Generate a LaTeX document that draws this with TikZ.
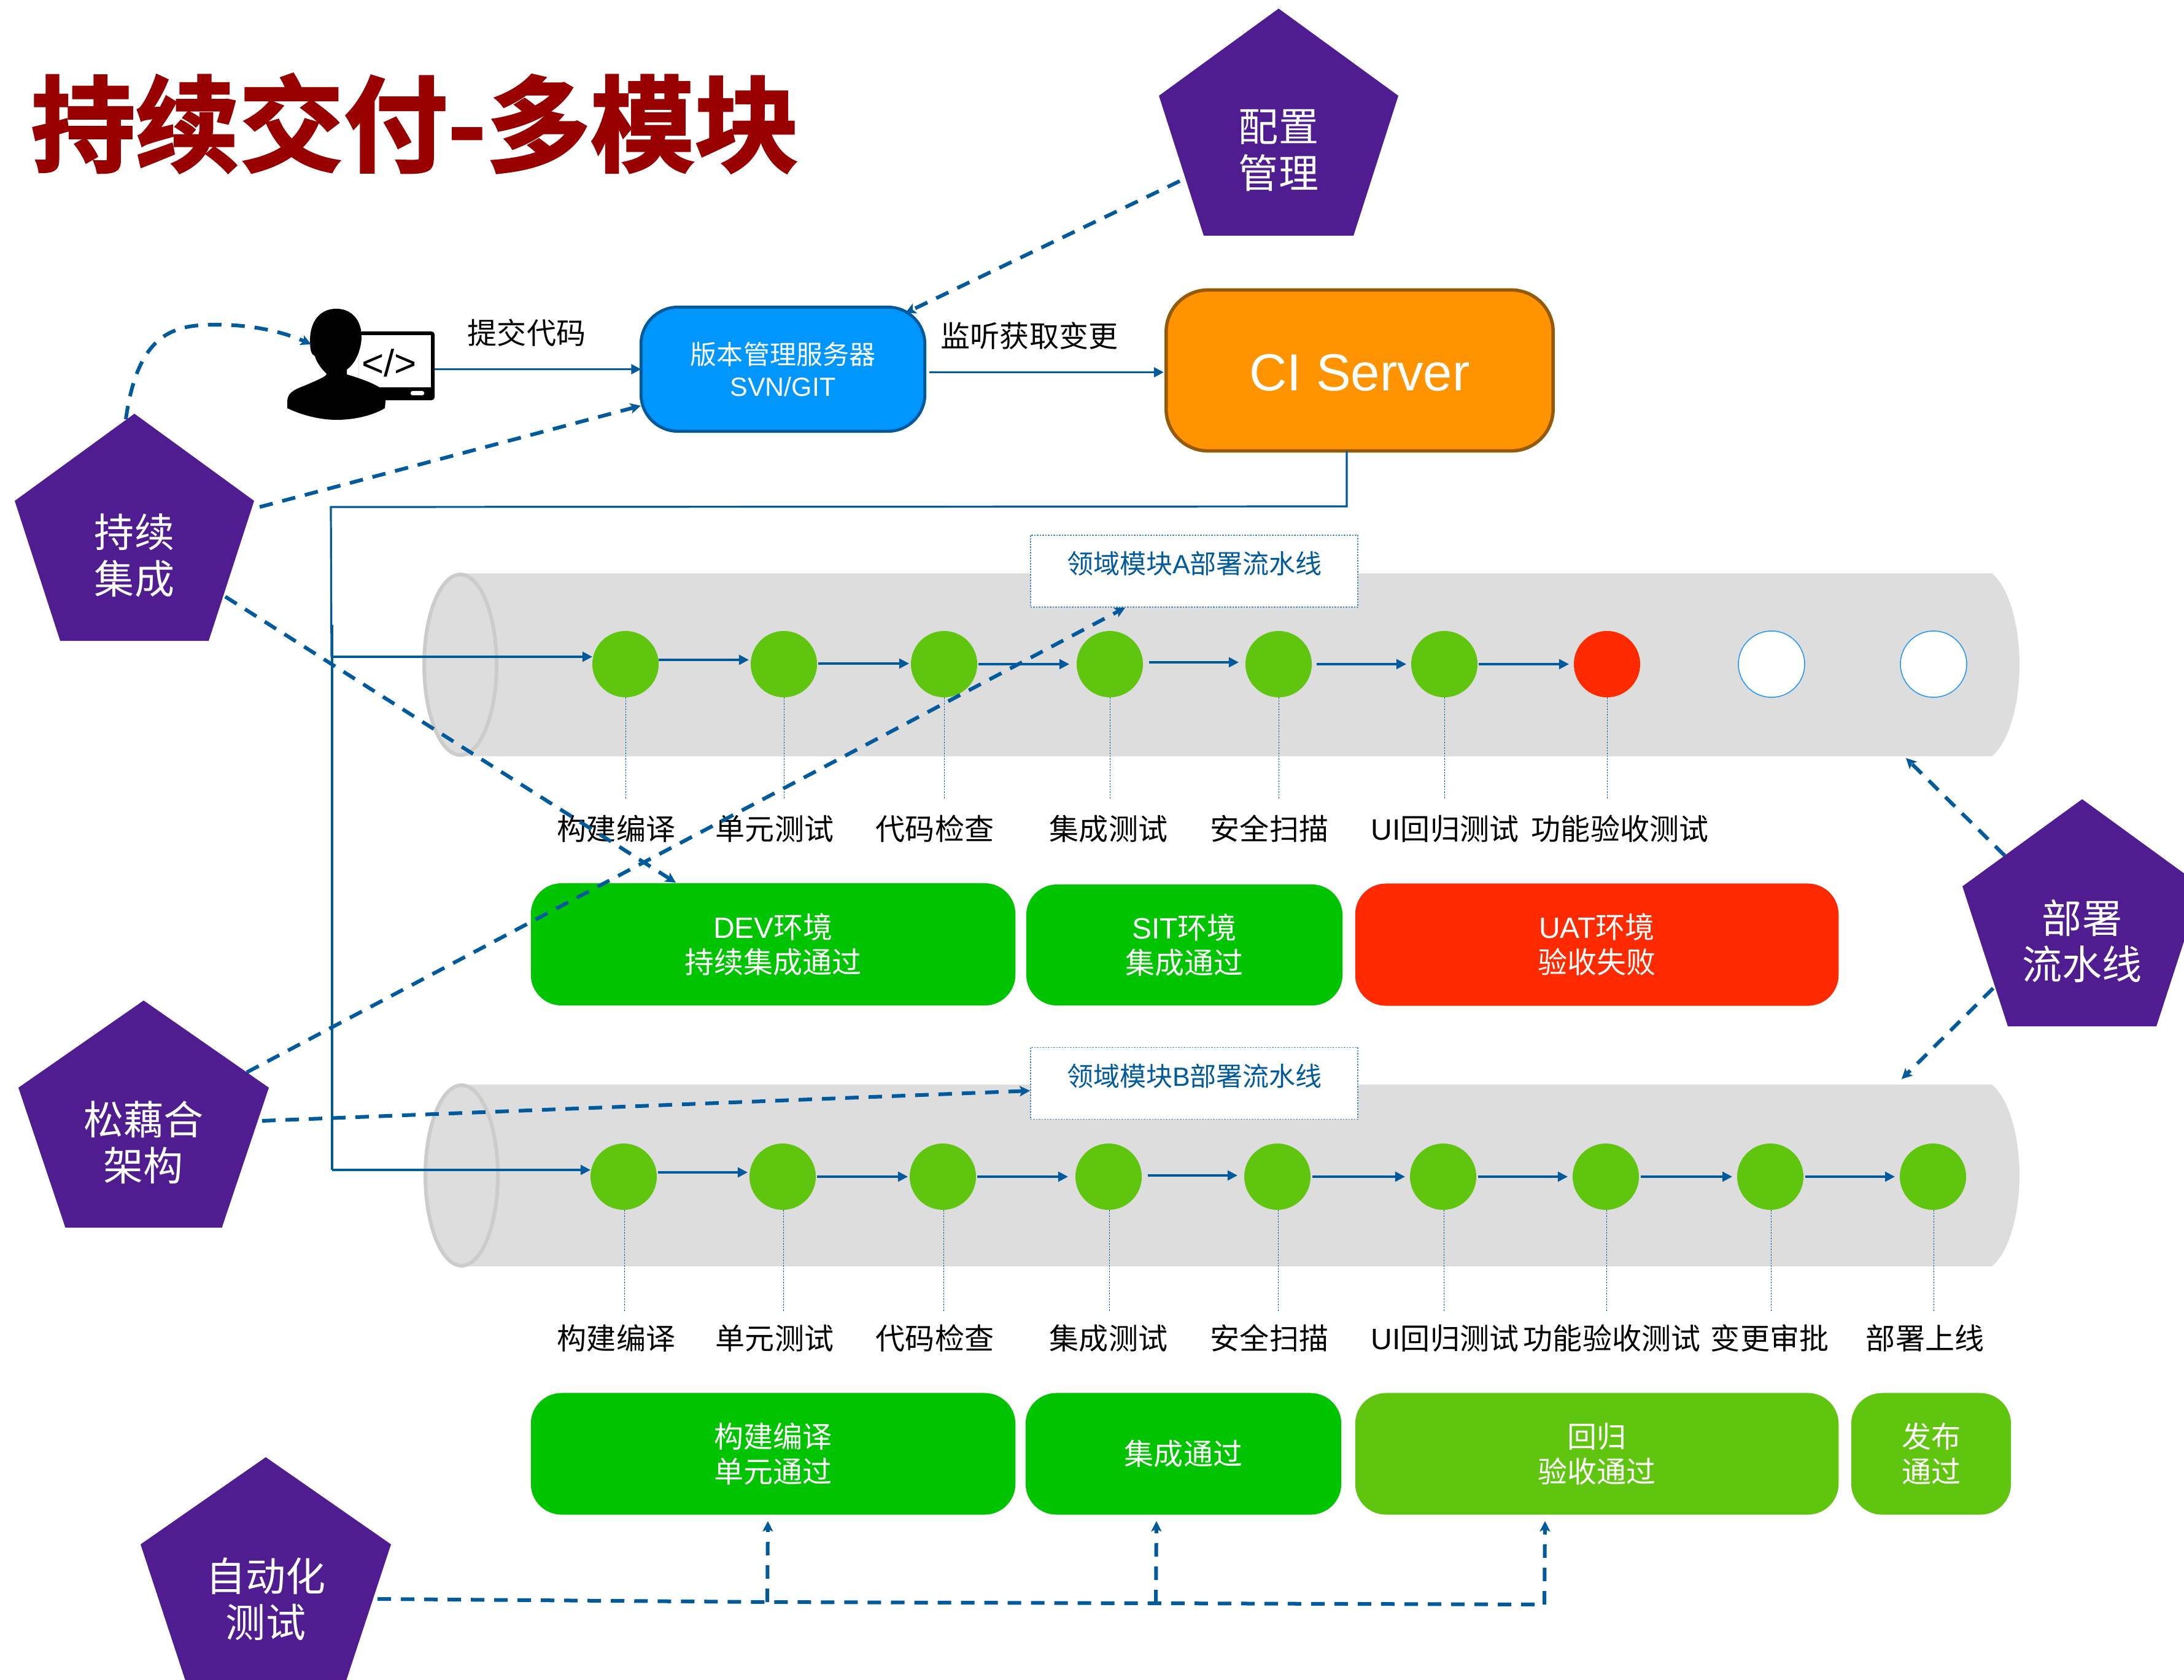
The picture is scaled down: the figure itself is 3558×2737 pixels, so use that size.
\documentclass[tikz,border=0pt]{standalone}
\usepackage{fontspec}
\usetikzlibrary{arrows.meta,calc}
\setmainfont{Noto Sans CJK SC}
\newfontfamily\lat{Liberation Sans}
\newfontfamily\titlefont[FakeBold=2]{Noto Sans CJK SC Bold}
\definecolor{lineblue}{RGB}{0,90,156}
\definecolor{pentpurple}{RGB}{80,29,144}
\definecolor{okgreen}{RGB}{0,196,0}
\definecolor{leafgreen}{RGB}{96,197,15}
\definecolor{failred}{RGB}{255,42,0}
\definecolor{tubegrey}{RGB}{221,221,221}
\definecolor{tubeedge}{RGB}{204,204,204}
\definecolor{svnblue}{RGB}{0,150,255}
\definecolor{ciorange}{RGB}{255,148,0}
\definecolor{cibrown}{RGB}{150,90,5}
\definecolor{titlered}{RGB}{153,0,0}
\definecolor{ringblue}{RGB}{33,150,243}
\tikzset{
  arr/.style={draw=lineblue,line width=0.032cm,-{Triangle[length=0.16cm,width=0.16cm]}},
  wire/.style={draw=lineblue,line width=0.032cm},
  dashline/.style={draw=lineblue,line width=0.06cm,dash pattern=on 0.22cm off 0.16cm},
  dasharr/.style={dashline,-{Stealth[length=0.17cm,width=0.17cm,inset=0.04cm]}},
  leader/.style={draw=lineblue,line width=0.01cm,dash pattern=on 0.025cm off 0.02cm},
  lab/.style={font=\fontsize{13.66pt}{16pt}\selectfont,text=black,inner sep=0pt},
  dot/.style={circle,minimum size=1.08cm,inner sep=0pt,outer sep=0pt,fill=leafgreen},
  reddot/.style={dot,fill=failred},
  whitedot/.style={dot,fill=white,draw=ringblue,line width=0.015cm},
  status/.style={rounded corners=0.5cm,inner sep=0pt,outer sep=0pt,text=white,align=center,
    font=\fontsize{13.66pt}{16.2pt}\selectfont},
  pipehead/.style={draw=lineblue!70,dash pattern=on 0.025cm off 0.02cm,line width=0.015cm,fill=white,
    minimum width=5.33cm,minimum height=1.17cm,inner sep=0pt},
  pipetext/.style={text=lineblue,inner sep=0pt,font=\fontsize{12.23pt}{14pt}\selectfont},
  penttext/.style={text=white,align=center,inner sep=0pt,font=\fontsize{18.5pt}{21.5pt}\selectfont},
}
\newcommand{\pentagon}[6]{% name, cx, top, half width, bottom half width, text
  \fill[pentpurple] (#2,#3) -- (#2+#4,#3+142) -- (#2+#5,#3+370) -- (#2-#5,#3+370) -- (#2-#4,#3+142) -- cycle;
  \node[penttext] (#1) at (#2,#3+231) {#6};
}
\newcommand{\tube}[5]{% name, ellipse cx, top, bottom, mid
  \fill[tubegrey] (#2,#3) -- (3245,#3) .. controls (3275,#3+25) and (3290,#3+90) .. (3290,#5)
     .. controls (3290,#4-90) and (3275,#4-25) .. (3245,#4) -- (#2,#4) -- cycle;
  \draw[fill=tubegrey,draw=tubeedge,line width=0.06cm] (#2,#5) ellipse [x radius=59,y radius=147];
  \coordinate (#1) at (#2,#5);
}
\newcommand{\hop}[5]{% from, to, dy, start gap, end gap
  \draw[arr] ($(#1.east)+(#4,#3)$) -- ($(#2.west)+(-#5,#3)$);
}
\begin{document}
\begin{tikzpicture}[x=0.01cm,y=-0.01cm]
\useasboundingbox (0,0) rectangle (3558,2737);
\fill[white] (0,0) rectangle (3558,2737);

% title
\node[anchor=west,inner sep=0pt,text=titlered,font=\titlefont\fontsize{48.25pt}{56pt}\selectfont] (title) at (50,201) {持续交付-多模块};

% tubes
\tube{tubeA}{750}{934}{1232}{1083}
\tube{tubeB}{752}{1767}{2063}{1915}

% pipeline headers
\node[pipehead] (headA) at (1945.5,930.5) {};
\node[pipetext] (headAt) at (1946,918) {领域模块{\lat A}部署流水线};
\node[pipehead] (headB) at (1945.5,1765) {};
\node[pipetext] (headBt) at (1946,1753) {领域模块{\lat B}部署流水线};

% developer icon
\node[fill=black,rounded corners=0.05cm,minimum width=1.23cm,minimum height=1.12cm,inner sep=0pt,outer sep=0pt] (dev) at (646.5,596) {};
\fill[white] (585,546) rectangle (702,631);
\fill[white,rounded corners=0.03cm] (669,637) rectangle (691,644);
\fill[black] (548,503) .. controls (520,503) and (505,525) .. (505,555)
  .. controls (505,570) and (507,578) .. (513,580) .. controls (516,592) and (525,602) .. (532,609)
  .. controls (532,613) and (520,618) .. (497,628) .. controls (475,636) and (468,642) .. (468,655)
  -- (468,665) .. controls (495,678) and (525,684) .. (548,684) .. controls (575,684) and (605,678) .. (627,665)
  -- (629,642) .. controls (625,632) and (605,622) .. (565,610) -- (565,602)
  .. controls (575,595) and (583,582) .. (587,565) .. controls (595,530) and (578,503) .. (548,503) -- cycle;
\node[inner sep=0pt,font=\lat\fontsize{17.6pt}{20pt}\selectfont] (devcode) at (634,591) {</>};

% server boxes
\node[fill=svnblue,draw=lineblue,line width=0.05cm,rounded corners=0.6cm,minimum width=4.62cm,minimum height=2.02cm,
  inner sep=0pt,outer sep=0pt,text=white,align=center,font=\fontsize{12.23pt}{14.9pt}\selectfont] (svn) at (1275.5,601.5) {版本管理服务器\\{\lat SVN/GIT}};
\node[fill=ciorange,draw=cibrown,line width=0.055cm,rounded corners=0.68cm,minimum width=6.3cm,minimum height=2.62cm,
  inner sep=0pt,outer sep=0pt,text=white,font=\lat\fontsize{24.2pt}{28pt}\selectfont] (ci) at (2215,603.5) {\raisebox{-0.04cm}[\height][\depth]{CI Server}};
\node[lab] (lcommit) at (858,542) {提交代码};
\node[lab] (llisten) at (1677,547) {监听获取变更};
\draw[arr] (dev.east |- svn.west) -- (svn.west);
\draw[arr] ($(svn.east)+(7,5)$) -- ($(ci.west)+(-4,3)$);

% circles, pipeline A
\foreach \n/\x/\s in {a1/1019/dot,a2/1277/dot,a3/1538/dot,a4/1808/dot,a5/2083/dot,a6/2353/dot,a7/2618/reddot,a8/2886/whitedot,a9/3150/whitedot}
  \node[\s] (\n) at (\x,1082) {};
% circles, pipeline B
\foreach \n/\x in {b1/1016,b2/1275,b3/1536,b4/1806,b5/2081,b6/2351,b7/2616,b8/2884,b9/3149}
  \node[dot] (\n) at (\x,1917) {};

% CI feed lines
\coordinate (cornerA) at (2194,825);
\coordinate (cornerB) at (539,826);
\coordinate (cornerC) at (540,1070);
\coordinate (splitD) at (541,1018);
\coordinate (cornerE) at (541,1906);
\draw[wire] (2194,735) -- (cornerA) -- (cornerB) -- (cornerC);
\draw[arr] (cornerC) -- (a1.west |- cornerC);
\draw[wire] (splitD) -- (cornerE);
\draw[arr] (cornerE) -- (b1.west |- cornerE);

% hops
\hop{a1}{a2}{-7}{0}{3}
\hop{a2}{a3}{-1}{2}{3}
\hop{a3}{a4}{0}{2}{12}
\hop{a4}{a5}{-3}{10}{11}
\hop{a5}{a6}{0}{8}{8}
\hop{a6}{a7}{0}{2}{8}
\hop{b1}{b2}{-7}{2}{3}
\hop{b2}{b3}{0}{2}{3}
\hop{b3}{b4}{0}{2}{12}
\hop{b4}{b5}{-2}{10}{11}
\hop{b5}{b6}{0}{3}{8}
\hop{b6}{b7}{0}{3}{8}
\hop{b7}{b8}{0}{3}{8}
\hop{b8}{b9}{0}{3}{8}

% leaders
\coordinate (endA) at (0,1301);
\coordinate (endB) at (0,2137);
\foreach \n in {a1,a2,a3,a4,a5,a6,a7}
  \draw[leader] (\n.south) -- (\n.south |- endA);
\foreach \n in {b1,b2,b3,b4,b5,b6,b7,b8,b9}
  \draw[leader] ($(\n.south)+(1,0)$) -- ($(\n.south |- endB)+(1,0)$);

% stage labels
\node[lab] (la1) at (1004,1350) {构建编译};
\node[lab] (la2) at (1262,1350) {单元测试};
\node[lab] (la3) at (1523,1350) {代码检查};
\node[lab] (la4) at (1806,1350) {集成测试};
\node[lab] (la5) at (2068,1350) {安全扫描};
\node[lab] (la6) at (2354,1350) {{\lat UI}回归测试};
\node[lab] (la7) at (2639,1350) {功能验收测试};
\node[lab] (lb1) at (1004,2180) {构建编译};
\node[lab] (lb2) at (1262,2180) {单元测试};
\node[lab] (lb3) at (1523,2180) {代码检查};
\node[lab] (lb4) at (1806,2180) {集成测试};
\node[lab] (lb5) at (2068,2180) {安全扫描};
\node[lab] (lb6) at (2354,2180) {{\lat UI}回归测试};
\node[lab] (lb7) at (2626,2180) {功能验收测试};
\node[lab] (lb8) at (2883,2180) {变更审批};
\node[lab] (lb9) at (3136,2180) {部署上线};

% status boxes
\node[status,fill=okgreen,minimum width=7.89cm,minimum height=1.99cm] (s1) at (1259.5,1538.5) {{\lat DEV}环境\\持续集成通过};
\node[status,fill=okgreen,minimum width=5.15cm,minimum height=1.97cm] (s2) at (1929.5,1539.5) {{\lat SIT}环境\\集成通过};
\node[status,fill=failred,minimum width=7.87cm,minimum height=1.99cm] (s3) at (2601.5,1539) {{\lat UAT}环境\\验收失败};
\node[status,fill=okgreen,minimum width=7.89cm,minimum height=1.98cm] (s4) at (1259.5,2368.5) {构建编译\\单元通过};
\node[status,fill=okgreen,minimum width=5.14cm,minimum height=1.98cm] (s5) at (1928,2368.5) {集成通过};
\node[status,fill=leafgreen,minimum width=7.87cm,minimum height=1.98cm] (s6) at (2601.5,2368.5) {回归\\验收通过};
\node[status,fill=leafgreen,minimum width=2.6cm,minimum height=1.98cm] (s7) at (3146,2368.5) {发布\\通过};

% dashed connectors
\coordinate (cfgOut) at (1922,295);
\coordinate (svnIn) at (1475,510);
\draw[dasharr] (cfgOut) -- (svnIn);
\coordinate (ciTop) at (205,683);
\coordinate (ciMid) at (352,529);
\coordinate (devIn) at (507,561);
\draw[dasharr] (ciTop) .. controls (225,540) and (285,529) .. (ciMid) .. controls (410,529) and (460,540) .. (devIn);
\coordinate (ciRight) at (423,826);
\coordinate (svnIn2) at (1044,661);
\draw[dasharr] (ciRight) -- (svnIn2);
\coordinate (ciLow) at (367,972);
\coordinate (devBoxIn) at (1101,1438);
\draw[dasharr] (ciLow) -- (devBoxIn);
\coordinate (looseA) at (402,1747);
\coordinate (headAin) at (1833,990);
\draw[dasharr] (looseA) -- (headAin);
\coordinate (looseB) at (427,1826);
\draw[dasharr] (looseB) -- ($(headB.west)+(0,12)$);
\coordinate (deployA) at (3266,1394);
\coordinate (tubeAin) at (3105,1235);
\draw[dasharr] (deployA) -- (tubeAin);
\coordinate (deployB) at (3247,1610);
\coordinate (tubeBin) at (3098,1758);
\draw[dasharr] (deployB) -- (tubeBin);
\coordinate (autoOut) at (615,2605);
\coordinate (j1) at (1250,2610);
\coordinate (j2) at (1883,2612);
\coordinate (j3) at (2516,2614);
\draw[dashline] (autoOut) -- (j1) -- (j2) -- (j3);
\draw[dasharr] (j1) -- (1251,2478);
\draw[dasharr] (j2) -- (1884,2478);
\draw[dasharr] (j3) -- (2517,2478);

% pentagons
\pentagon{cfg}{2083}{14}{195}{122}{配置\\管理}
\pentagon{cint}{219}{674}{195}{121}{持续\\集成}
\pentagon{deploy}{3392}{1302}{195}{121}{部署\\流水线}
\pentagon{loose}{234}{1630}{204}{127.5}{松藕合\\架构}
\pentagon{auto}{433}{2374}{204}{129}{自动化\\测试}
\end{tikzpicture}
\end{document}
